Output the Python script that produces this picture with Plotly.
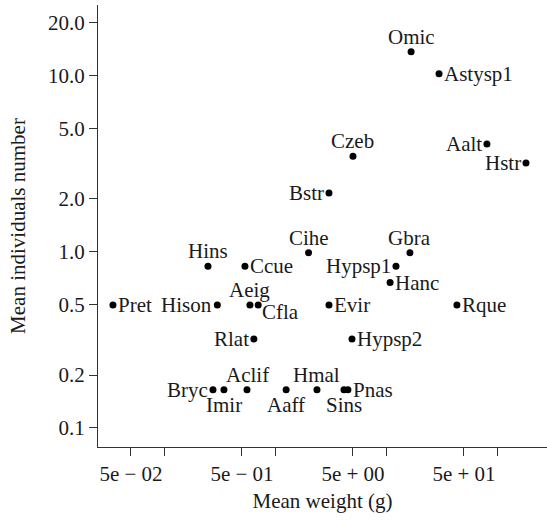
import math
import plotly.graph_objects as go

# Species codes, mean body weight (g) and mean number of individuals
species = ["Omic", "Astysp1", "Czeb", "Aalt", "Hstr", "Bstr", "Cihe", "Gbra",
           "Hypsp1", "Hanc", "Evir", "Rque", "Hypsp2", "Hmal", "Aaff", "Sins",
           "Pnas", "Hins", "Ccue", "Pret", "Hison", "Aeig", "Cfla", "Rlat",
           "Bryc", "Imir", "Aclif"]
mean_weight = [16.7, 29.8, 5.0, 80.5, 181.0, 3.04, 1.99, 16.3,
               12.2, 10.8, 3.04, 43.2, 4.9, 2.37, 1.25, 4.15,
               4.5, 0.247, 0.532, 0.0344, 0.30, 0.59, 0.70, 0.64,
               0.274, 0.344, 0.555]
mean_number = [13.7, 10.3, 3.5, 4.1, 3.2, 2.16, 0.99, 0.99,
               0.83, 0.67, 0.5, 0.5, 0.32, 0.165, 0.165, 0.165,
               0.165, 0.83, 0.83, 0.5, 0.5, 0.5, 0.5, 0.32,
               0.165, 0.165, 0.165]
# side of the point on which each species code is written
label_side = ["top", "right", "top", "left", "left", "left", "top", "top",
              "left", "right", "right", "right", "right", "top", "bottom", "bottom",
              "right", "top", "right", "right", "left", "top", "lowright", "left",
              "left", "bottom", "top"]

x_ticks = [0.05, 0.1, 0.5, 1, 5, 10, 50, 100]
x_ticktext = ["5e \u2212 02", "", "5e \u2212 01", "", "5e + 00", "", "5e + 01", ""]
y_ticks = [0.1, 0.2, 0.5, 1, 2, 5, 10, 20]
y_ticktext = ["0.1", "0.2", "0.5", "1.0", "2.0", "5.0", "10.0", "20.0"]

FONT = "Liberation Serif"
INK = "#1a1a1a"
FS = 21

fig = go.Figure(go.Scatter(
    x=mean_weight, y=mean_number, mode="markers",
    marker=dict(size=7, color="black"),
    cliponaxis=False, showlegend=False, hoverinfo="text", text=species,
))

# label placement: anchors and pixel offsets for each side
placement = {
    "top": dict(xanchor="center", yanchor="bottom", xshift=0, yshift=2),
    "bottom": dict(xanchor="center", yanchor="top", xshift=0, yshift=-2),
    "left": dict(xanchor="right", yanchor="middle", xshift=-4, yshift=0),
    "right": dict(xanchor="left", yanchor="middle", xshift=4, yshift=0),
    "lowright": dict(xanchor="left", yanchor="middle", xshift=3, yshift=-7),
}
for name, w, n, side in zip(species, mean_weight, mean_number, label_side):
    fig.add_annotation(
        x=math.log10(w), y=math.log10(n), xref="x", yref="y",
        text=name, showarrow=False, borderpad=0,
        font=dict(family=FONT, size=FS, color=INK),
        **placement[side],
    )

axis_common = dict(
    type="log", showgrid=False, zeroline=False, showline=True,
    linecolor="#333333", linewidth=1.3, ticks="outside", ticklen=8,
    tickwidth=1.3, tickcolor="#333333", mirror=False,
    tickfont=dict(family=FONT, size=FS, color=INK),
)

fig.update_xaxes(
    **axis_common,
    range=[-1.598, 2.447],
    tickvals=x_ticks, ticktext=x_ticktext,
    title=dict(text="Mean weight (g)", font=dict(family=FONT, size=FS, color=INK),
               standoff=7),
)
fig.update_yaxes(
    **axis_common,
    range=[-1.108, 1.403],
    tickvals=y_ticks, ticktext=y_ticktext,
    title=dict(text="Mean individuals number", font=dict(family=FONT, size=FS, color=INK),
               standoff=16),
)

fig.update_layout(
    width=547, height=524,
    margin=dict(l=98, r=0, t=5, b=77),
    paper_bgcolor="white", plot_bgcolor="white",
)

fig.write_html("out.html")
